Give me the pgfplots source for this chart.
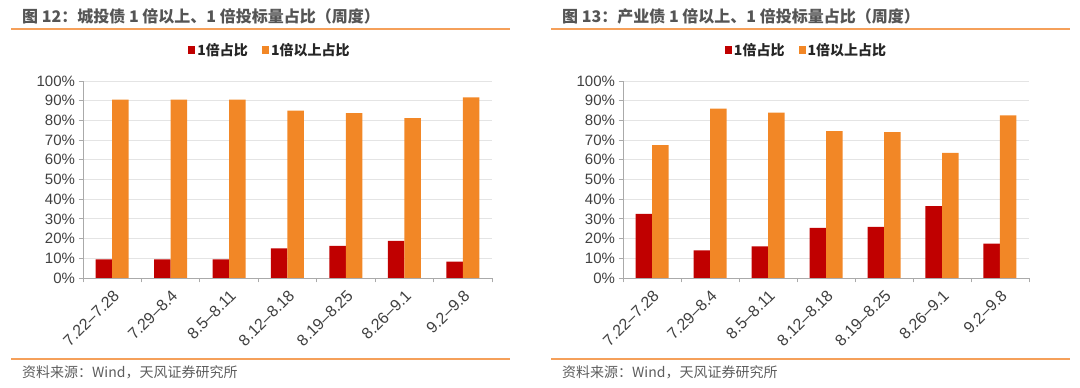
\documentclass[border=0pt]{standalone}
\usepackage{fontspec}
\setmainfont{Liberation Sans}
\newfontfamily\cjk{Noto Sans CJK SC}
\usepackage{pgfplots}
\pgfplotsset{compat=1.18}
\usepackage{pgfplotstable}
\definecolor{barred}{RGB}{192,0,0}
\definecolor{barorange}{RGB}{242,135,38}
\definecolor{lineorange}{RGB}{245,160,90}
\definecolor{txt}{RGB}{64,64,64}
\definecolor{ttl}{RGB}{85,85,85}
\definecolor{axgray}{RGB}{170,170,170}
\definecolor{gridgray}{RGB}{228,228,228}

\pgfplotstableread{
x one above
0 9.5 90.5
1 9.5 90.5
2 9.5 90.5
3 15.0 85.0
4 16.3 83.7
5 18.8 81.2
6 8.3 91.7
}\chengtou

\pgfplotstableread{
x one above
0 32.5 67.5
1 14.0 86.0
2 16.0 84.0
3 25.5 74.5
4 26.0 74.0
5 36.5 63.5
6 17.5 82.5
}\chanye

\pgfplotsset{
 sq/.style={legend image code/.code={\fill[##1] (0pt,-3.6pt) rectangle (7.2pt,3.6pt);}},
 mystyle/.style={
  scale only axis, height=197pt,
  ymin=0, ymax=100, xmin=-0.5, xmax=6.5,
  ybar=0pt, bar width=16.5pt,
  axis x line*=bottom, axis y line*=left,
  axis line style={axgray, line width=0.9pt},
  every tick/.style={axgray, line width=0.9pt},
  major tick length=4.5pt,
  tick align=outside,
  ytick={0,10,...,100},
  yticklabel={\pgfmathprintnumber{\tick}\%},
  /pgf/number format/assume math mode=true,
  yticklabel style={font=\fontsize{15}{17}\selectfont, text=txt},
  ymajorgrids, grid style={gridgray, line width=0.9pt},
  xtick={-0.5,0.5,...,6.5}, xticklabels={},
  xticklabel shift=6pt,
  extra x ticks={0,1,...,6},
  extra x tick labels={7.22–7.28,7.29–8.4,8.5–8.11,8.12–8.18,8.19–8.25,8.26–9.1,9.2–9.8},
  extra x tick style={major tick length=0pt, tick label style={rotate=45, anchor=north east, font=\fontsize{16}{18}\selectfont, text=txt}},
  legend columns=2,
  legend style={draw=none, fill=none, font=\cjk\bfseries\fontsize{14}{16}\selectfont, text=black!85,
    /tikz/every even column/.append style={column sep=12pt}},
 }
}

\begin{document}
\begin{tikzpicture}
\useasboundingbox (0pt,0pt) rectangle (1080pt,388pt);
% left panel decorations
\node[anchor=west, inner sep=0pt, text=ttl, font=\cjk\bfseries\fontsize{16}{18}\selectfont] at (22pt,372pt) {图 12：城投债 1 倍以上、1 倍投标量占比（周度）};
\draw[lineorange, line width=1.6pt] (11pt,359pt) -- (510pt,359pt);
\draw[lineorange, line width=1.6pt] (11pt,29pt) -- (510pt,29pt);
\node[anchor=west, inner sep=0pt, text=txt!85, font=\cjk\fontsize{14}{16}\selectfont] at (22pt,16pt) {资料来源：Wind，天风证券研究所};
% right panel decorations
\node[anchor=west, inner sep=0pt, text=ttl, font=\cjk\bfseries\fontsize{16}{18}\selectfont] at (562pt,372pt) {图 13：产业债 1 倍以上、1 倍投标量占比（周度）};
\draw[lineorange, line width=1.6pt] (551pt,359pt) -- (1070pt,359pt);
\draw[lineorange, line width=1.6pt] (551pt,29pt) -- (1070pt,29pt);
\node[anchor=west, inner sep=0pt, text=txt!85, font=\cjk\fontsize{14}{16}\selectfont] at (562pt,16pt) {资料来源：Wind，天风证券研究所};

\begin{axis}[mystyle, width=409pt, at={(83pt,110pt)}, anchor=south west,
  legend style={at={(0.457,1.157)}, anchor=center}]
\addplot[fill=barred, draw=none, sq] table[x=x, y=one] {\chengtou};
\addplot[fill=barorange, draw=none, sq] table[x=x, y=above] {\chengtou};
\legend{1倍占比, 1倍以上占比}
\end{axis}

\begin{axis}[mystyle, width=406pt, at={(623pt,110pt)}, anchor=south west,
  legend style={at={(0.452,1.157)}, anchor=center}]
\addplot[fill=barred, draw=none, sq] table[x=x, y=one] {\chanye};
\addplot[fill=barorange, draw=none, sq] table[x=x, y=above] {\chanye};
\legend{1倍占比, 1倍以上占比}
\end{axis}
\end{tikzpicture}
\end{document}
